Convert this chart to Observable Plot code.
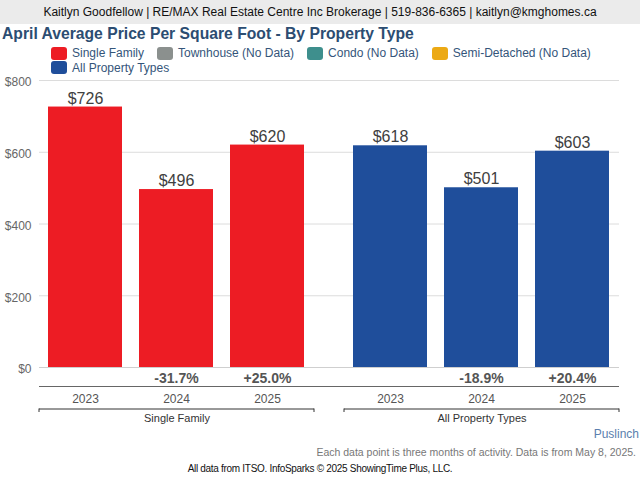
<!DOCTYPE html>
<html>
<head>
<meta charset="utf-8">
<script src="https://cdn.jsdelivr.net/npm/d3@7"></script>
<script src="https://cdn.jsdelivr.net/npm/@observablehq/plot@0.6"></script>
<style>
  html, body { margin: 0; padding: 0; background: #fff; width: 640px; height: 480px; overflow: hidden; }
  body { font-family: "Liberation Sans", Arial, sans-serif; }
  #header { height: 24px; line-height: 24px; background: #ebebeb; color: #111; font-size: 12px; text-align: center; }
  #title { height: 20px; line-height: 20px; margin-left: 2px; color: #2c4d72; font-weight: bold; font-size: 15.7px; white-space: nowrap; }
  #legend { margin-top: 2px; padding-left: 51px; height: 29px; position: relative; z-index: 1; }
  .row { height: 14.5px; display: flex; align-items: center; }
  .row:first-child { margin-top: 1px; }
  .item { display: flex; align-items: center; margin-right: 13px; font-size: 12px; color: #34557a; white-space: nowrap; }
  .sw { width: 16px; height: 13px; border-radius: 3px; margin-right: 5px; }
  #chart { height: 355px; margin-top: -5px; }
  #chart svg { background: transparent; }
  #place { height: 14px; line-height: 14px; text-align: right; padding-right: 1px; margin-top: 2px; color: #5b7fae; font-size: 12px; }
  #note { height: 14px; line-height: 14px; text-align: right; padding-right: 4px; margin-top: 4px; color: #777; font-size: 10.5px; }
  #source { height: 14px; line-height: 14px; text-align: center; margin-top: 3px; color: #111; font-size: 10px; letter-spacing: -0.3px; }
</style>
</head>
<body>
<div id="header">Kaitlyn Goodfellow | RE/MAX Real Estate Centre Inc Brokerage | 519-836-6365 | kaitlyn@kmghomes.ca</div>
<div id="title">April Average Price Per Square Foot - By Property Type</div>
<div id="legend"></div>
<div id="chart"></div>
<div id="place">Puslinch</div>
<div id="note">Each data point is three months of activity. Data is from May 8, 2025.</div>
<div id="source">All data from ITSO. InfoSparks © 2025 ShowingTime Plus, LLC.</div>
<script>
// ---- data ----
const groups = ["Single Family", "All Property Types"];
const years = ["2023", "2024", "2025"];
const singleFamilyValues = [726, 496, 620];
const allTypesValues = [618, 501, 603];
const singleFamilyChanges = ["", "-31.7%", "+25.0%"];
const allTypesChanges = ["", "-18.9%", "+20.4%"];
const yTicks = [0, 200, 400, 600, 800];
const legendNames = ["Single Family", "Townhouse (No Data)", "Condo (No Data)", "Semi-Detached (No Data)", "All Property Types"];
const legendColors = ["#ed1c24", "#8b908e", "#3e8f8d", "#eca914", "#1f4e9b"];
const groupColors = ["#ed1c24", "#1f4e9b"];

// ---- legend ----
const legend = document.getElementById("legend");
const rows = [legendNames.slice(0, 4), legendNames.slice(4)];
let k = 0;
rows.forEach(r => {
  const row = document.createElement("div");
  row.className = "row";
  r.forEach(name => {
    const it = document.createElement("div");
    it.className = "item";
    const sw = document.createElement("div");
    sw.className = "sw";
    sw.style.background = legendColors[k++];
    it.appendChild(sw);
    it.appendChild(document.createTextNode(name));
    row.appendChild(it);
  });
  legend.appendChild(row);
});

// ---- table ----
const data = [];
years.forEach((y, i) => data.push({group: groups[0], year: y, value: singleFamilyValues[i], change: singleFamilyChanges[i]}));
years.forEach((y, i) => data.push({group: groups[1], year: y, value: allTypesValues[i], change: allTypesChanges[i]}));

const font = "'Liberation Sans', Arial, sans-serif";

const chart = Plot.plot({
  width: 640,
  height: 355,
  marginLeft: 38,
  marginRight: 20,
  marginTop: 10,
  marginBottom: 58,
  style: {fontFamily: font, fontSize: "12px", background: "transparent"},
  fx: {domain: groups, paddingInner: 0.098, paddingOuter: 0, axis: null, label: null},
  x: {domain: years, paddingInner: 0.185, paddingOuter: 0.092, axis: null, label: null},
  y: {domain: [0, 800], axis: null},
  color: {domain: groups, range: groupColors},
  marks: [
    Plot.axisY(yTicks, {tickFormat: d => "$" + d, tickSize: 0, tickPadding: 8, dy: 2, label: null, fill: "#666", fontSize: 12}),
    Plot.barY(data, {fx: "group", x: "year", y: "value", fill: "group"}),
    Plot.text(data, {fx: "group", x: "year", y: "value", text: d => "$" + d.value, dy: -8.5, fontSize: 16, fill: "#404040"}),
    Plot.text(data, {fx: "group", x: "year", y: () => 0, text: "change", dy: 11, fontSize: 14, fontWeight: "bold", fill: "#555"}),
    Plot.text(data, {fx: "group", x: "year", y: () => 0, text: "year", dy: 32, fontSize: 12, fill: "#555"}),
    Plot.ruleY(groups, {fx: d => d, y: () => 0, dy: 41.5, stroke: "#333"}),
    Plot.text(groups, {fx: d => d, y: () => 0, text: d => d, dy: 51, fontSize: 11, fill: "#333"})
  ]
});
document.getElementById("chart").appendChild(chart);

// full-width grid lines and bracket end ticks, derived from the library's scales
const fxs = chart.scale("fx");
const ys = chart.scale("y");
const xLeft = fxs.apply(groups[0]);
const xRight = fxs.apply(groups[1]) + fxs.bandwidth;
const under = d3.select(chart).insert("g", "g");
yTicks.forEach(v => {
  under.append("line")
    .attr("x1", xLeft).attr("x2", xRight)
    .attr("y1", ys.apply(v) + 0.5).attr("y2", ys.apply(v) + 0.5)
    .attr("stroke", v === 0 ? "#cfcfcf" : "#dcdcdc");
});
under.append("line")
  .attr("x1", xLeft).attr("x2", xRight)
  .attr("y1", ys.apply(0) + 19.5).attr("y2", ys.apply(0) + 19.5)
  .attr("stroke", "#666");
const yb = ys.apply(0) + 41.5;
groups.forEach(g => {
  const x1 = fxs.apply(g), x2 = x1 + fxs.bandwidth;
  d3.select(chart).append("path")
    .attr("d", `M${x1},${yb + 3.5}V${yb}M${x2},${yb + 3.5}V${yb}`)
    .attr("stroke", "#333").attr("fill", "none");
});
</script>
</body>
</html>
